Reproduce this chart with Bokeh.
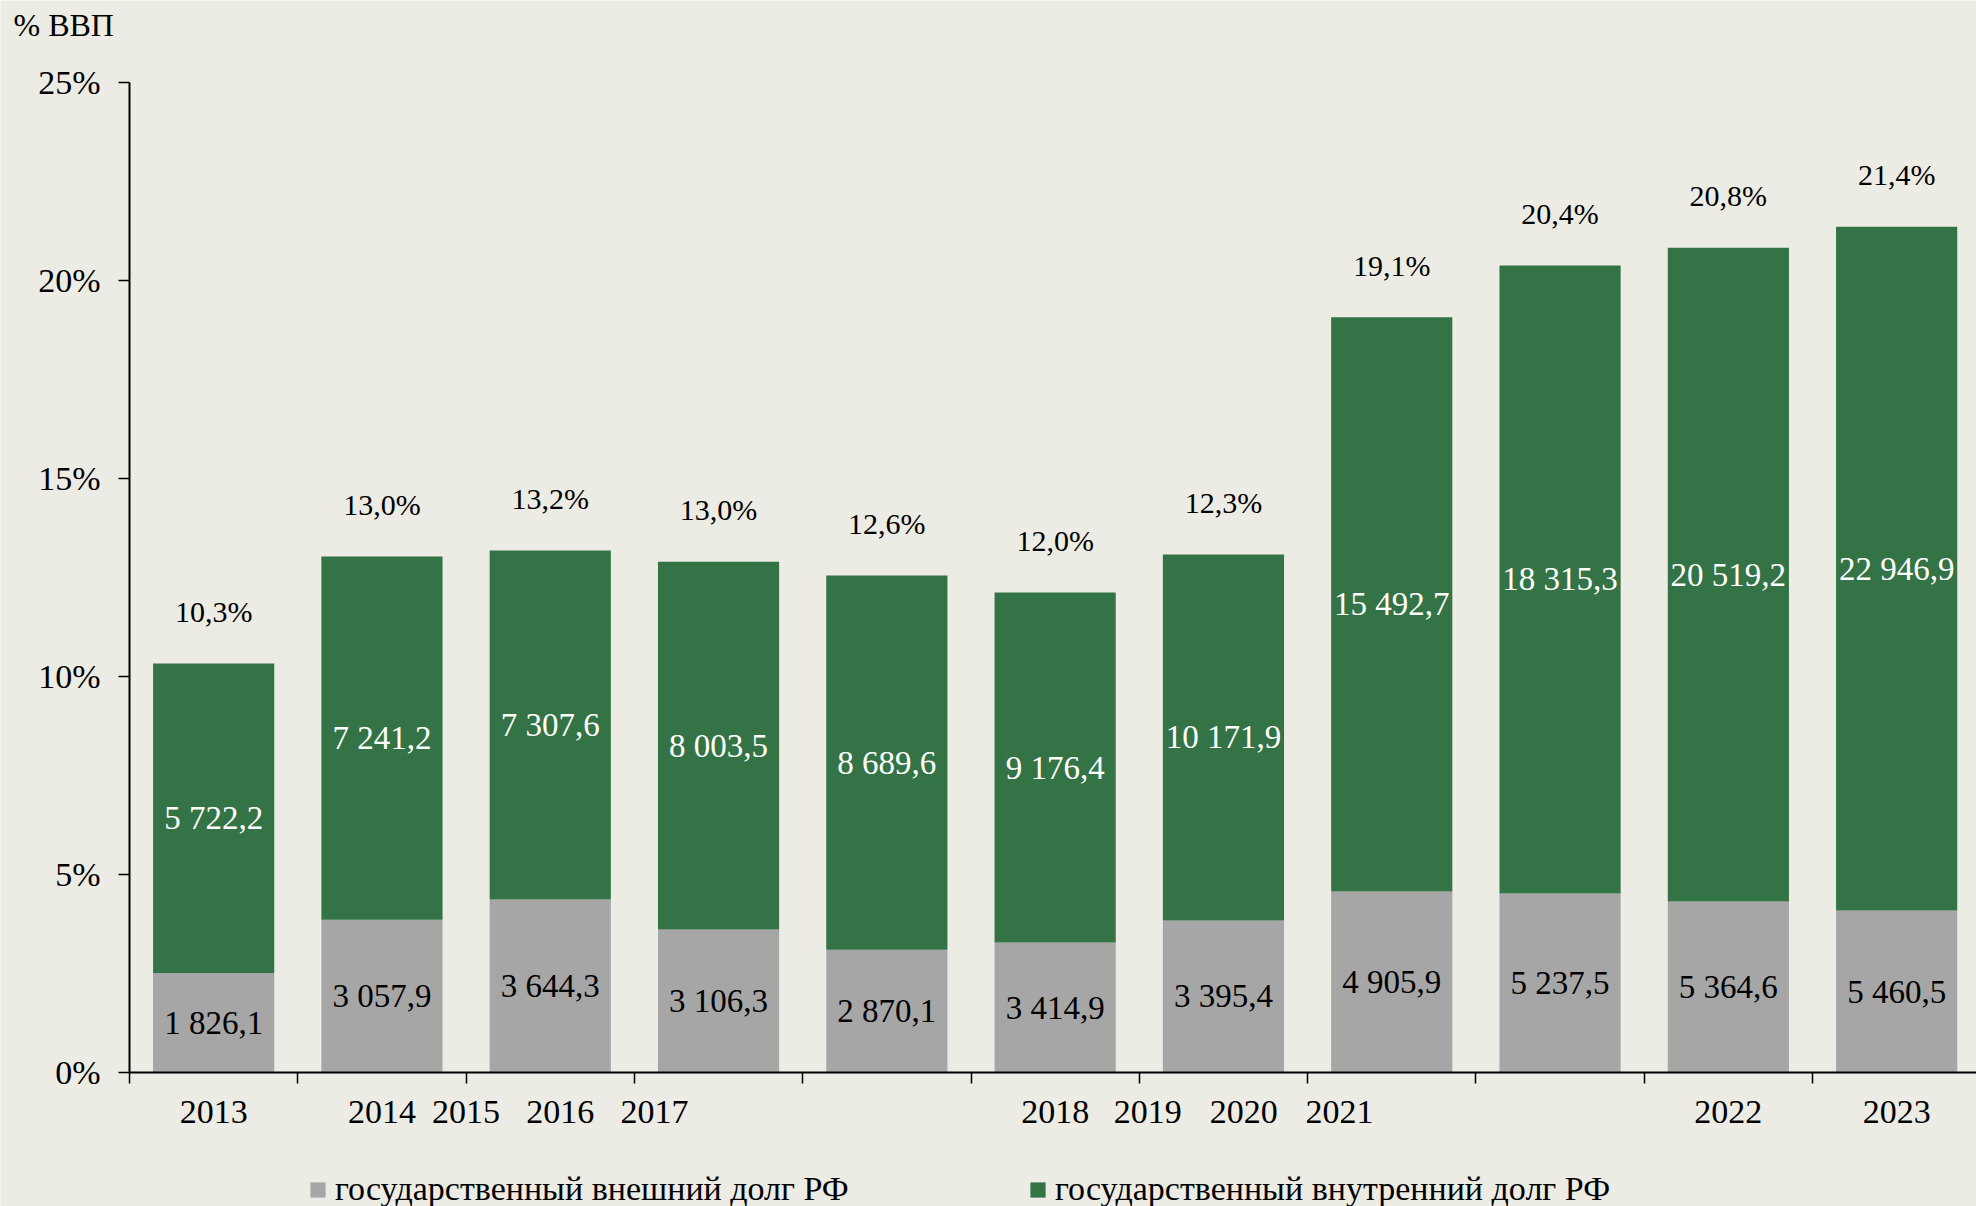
import numpy as np
from bokeh.plotting import figure
from bokeh.models import (ColumnDataSource, FixedTicker, PrintfTickFormatter,
                          Legend, LegendItem, Range1d, Label)
from bokeh.embed import file_html
from bokeh.resources import INLINE
from bokeh.core.properties import value

# ---- data (% of GDP) ----
ext_pct = [2.51, 3.86, 4.37, 3.61, 3.10, 3.28, 3.84, 4.57, 4.52, 4.32, 4.09]
int_pct = [7.82, 9.17, 8.81, 9.29, 9.45, 8.84, 9.24, 14.50, 15.86, 16.51, 17.27]
ext_labels = ["1 826,1", "3 057,9", "3 644,3", "3 106,3", "2 870,1", "3 414,9",
              "3 395,4", "4 905,9", "5 237,5", "5 364,6", "5 460,5"]
int_labels = ["5 722,2", "7 241,2", "7 307,6", "8 003,5", "8 689,6", "9 176,4",
              "10 171,9", "15 492,7", "18 315,3", "20 519,2", "22 946,9"]
total_labels = ["10,3%", "13,0%", "13,2%", "13,0%", "12,6%", "12,0%",
                "12,3%", "19,1%", "20,4%", "20,8%", "21,4%"]
year_labels = ["2013", "2014", "2015", "2016", "2017", "2018",
               "2019", "2020", "2021", "2022", "2023"]
year_label_pos = [0.5, 1.5, 2.0, 2.56, 3.12, 5.5, 6.05, 6.62, 7.19, 9.5, 10.5]
y_ticks = [0, 5, 10, 15, 20, 25]
legend_labels = ["государственный внешний долг РФ", "государственный внутренний долг РФ"]
unit_label = "% ВВП"

FONT = "Liberation Serif"
BG = "#ECEBE4"
GREEN = "#347345"
GRAY = "#A6A6A6"

W, H = 1976, 1206
ext = np.array(ext_pct)
inn = np.array(int_pct)
tot = ext + inn
n = len(ext)
x = np.arange(n) + 0.5

src = ColumnDataSource(dict(
    x=x, ext=ext, tot=tot,
    ext_mid=ext / 2, int_mid=ext + inn / 2,
    ext_lab=ext_labels, int_lab=int_labels, tot_lab=total_labels,
))

# the frame fills the whole canvas; axes sit at fixed locations (x=0, y=0)
x_px, y_px = 168.3, 39.6          # pixels per category / per percent
x0_px, y0_px = 129, 1072          # canvas position of the origin
x_range = Range1d(-x0_px / x_px, (W - x0_px) / x_px)
y_range = Range1d(-(H - y0_px) / y_px, y0_px / y_px)

p = figure(width=W, height=H, x_range=x_range, y_range=y_range,
           output_backend="svg", toolbar_location=None,
           min_border=0, min_border_left=0, min_border_right=0,
           min_border_top=0, min_border_bottom=0)

p.background_fill_color = BG
p.border_fill_color = BG
p.outline_line_color = None
p.xgrid.visible = False
p.ygrid.visible = False

r_ext = p.vbar(x="x", bottom=0, top="ext", width=0.72, fill_color=GRAY,
               line_color=None, source=src)
r_int = p.vbar(x="x", bottom="ext", top="tot", width=0.72, fill_color=GREEN,
               line_color=None, source=src)

p.text(x="x", y="ext_mid", text="ext_lab", source=src,
       text_font=value(FONT), text_font_size="33px", text_color="black",
       text_align="center", text_baseline="middle")
p.text(x="x", y="int_mid", text="int_lab", source=src,
       text_font=value(FONT), text_font_size="33px", text_color="white",
       text_align="center", text_baseline="middle")
p.text(x="x", y="tot", text="tot_lab", source=src, y_offset=-52,
       text_font=value(FONT), text_font_size="30px", text_color="black",
       text_align="center", text_baseline="middle")

# axes
for ax in (p.xaxis, p.yaxis):
    ax.fixed_location = 0
    ax.axis_line_width = 2
    ax.axis_line_color = "black"
    ax.major_tick_line_color = "black"
    ax.major_tick_line_width = 1.5
    ax.major_tick_in = 0
    ax.major_label_text_font = FONT
    ax.major_label_text_font_size = "34px"
    ax.major_label_text_color = "black"

p.yaxis.bounds = (0, 25)
p.yaxis.ticker = FixedTicker(ticks=y_ticks)
p.yaxis.formatter = PrintfTickFormatter(format="%d%%")
p.yaxis.major_tick_out = 11
p.yaxis.major_label_standoff = 18
p.yaxis.minor_tick_line_color = None

p.xaxis.bounds = (0, x_range.end)
p.xaxis.ticker = FixedTicker(ticks=year_label_pos, minor_ticks=list(range(n + 1)))
p.xaxis.major_label_overrides = {pos: lab for pos, lab in zip(year_label_pos, year_labels)}
p.xaxis.major_tick_out = 0
p.xaxis.major_tick_line_color = None
p.xaxis.minor_tick_in = 0
p.xaxis.minor_tick_out = 11
p.xaxis.minor_tick_line_color = "black"
p.xaxis.minor_tick_line_width = 1.5
p.xaxis.major_label_standoff = 17

# unit label in the top-left corner
p.add_layout(Label(x=13, y=H - 24, x_units="screen", y_units="screen",
                   text=unit_label, text_font=FONT, text_font_size="32px",
                   text_color="black", text_align="left", text_baseline="middle"))

# legends below the axis
for r, lab, xloc in ((r_ext, legend_labels[0], 308), (r_int, legend_labels[1], 1028)):
    leg = Legend(items=[LegendItem(label=lab, renderers=[r])],
                 location=(xloc, -2), orientation="horizontal",
                 padding=0, margin=0, spacing=0,
                 glyph_width=19, glyph_height=19, label_standoff=8,
                 label_text_font=FONT, label_text_font_size="34px",
                 label_text_color="black",
                 background_fill_alpha=0, border_line_color=None)
    p.add_layout(leg, "center")

open("out.html", "w").write(file_html(p, INLINE))
